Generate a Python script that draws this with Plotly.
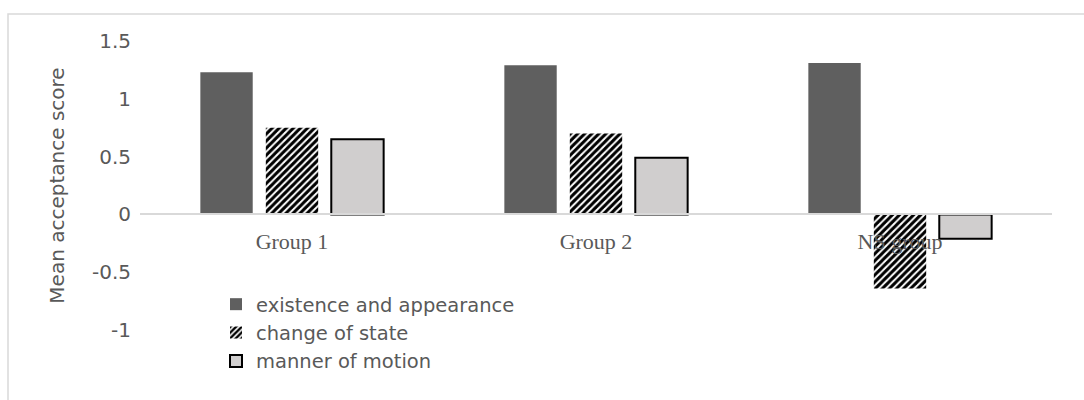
import plotly.graph_objects as go

# Mean acceptance scores per participant group and verb class
groups = ["Group 1", "Group 2", "NS group"]
existence_appearance = [1.23, 1.29, 1.31]
change_of_state = [0.75, 0.70, -0.64]
manner_of_motion = [0.65, 0.49, -0.21]

y_tick_vals = [1.5, 1, 0.5, 0, -0.5, -1]
y_tick_text = ["1.5", "1", "0.5", "0", "-0.5", "-1"]

W, H = 1084, 400
L, R, T, B = 140, 32, 41, 70
plot_w = W - L - R
plot_h = H - T - B

text_gray = "#595959"
sans = "DejaVu Sans"

fig = go.Figure()
fig.add_trace(go.Bar(
    name="existence and appearance", x=groups, y=existence_appearance,
    marker=dict(color="#5f5f5f", line=dict(width=0)),
))
fig.add_trace(go.Bar(
    name="change of state", x=groups, y=change_of_state,
    marker=dict(color="white", line=dict(width=0),
                pattern=dict(shape="/", fgcolor="black", bgcolor="white",
                             size=5, solidity=0.6, fillmode="replace")),
))
fig.add_trace(go.Bar(
    name="manner of motion", x=groups, y=manner_of_motion,
    marker=dict(color="#d0cece", line=dict(color="black", width=2)),
))

def px_x(px):
    return (px - L) / plot_w

def px_y(py):
    return (H - B - py) / plot_h

# light outer chart frame
fig.add_shape(type="rect", xref="paper", yref="paper",
              x0=px_x(8), x1=px_x(W + 20), y0=px_y(H + 20), y1=px_y(14),
              line=dict(color="#d9d9d9", width=1.5), fillcolor="rgba(0,0,0,0)",
              layer="below")

fig.update_layout(
    width=W, height=H,
    margin=dict(l=L, r=R, t=T, b=B, pad=0),
    paper_bgcolor="white", plot_bgcolor="white",
    barmode="group", bargap=0.354, bargroupgap=0.2,
    showlegend=True,
    legend=dict(
        x=px_x(216), y=px_y(285), xanchor="left", yanchor="top",
        font=dict(family=sans, size=19.5, color=text_gray),
        bgcolor="rgba(0,0,0,0)", borderwidth=0, tracegroupgap=0,
    ),
    xaxis=dict(
        range=[-0.5, 2.5], anchor="free", position=(0 - (-1)) / 2.5,
        showline=True, linecolor="#d9d9d9", linewidth=1.5,
        showgrid=False, zeroline=False, ticks="",
        tickfont=dict(family="Liberation Serif", size=22, color=text_gray),
        ticklabelstandoff=7,
    ),
    yaxis=dict(
        range=[-1, 1.5], tickvals=y_tick_vals, ticktext=y_tick_text,
        showgrid=False, zeroline=False, showline=False, ticks="",
        tickfont=dict(family=sans, size=20, color=text_gray),
        ticklabelstandoff=8,
        title=dict(text="Mean acceptance score", standoff=21,
                   font=dict(family=sans, size=20, color=text_gray)),
    ),
)

fig.write_html("out.html")
